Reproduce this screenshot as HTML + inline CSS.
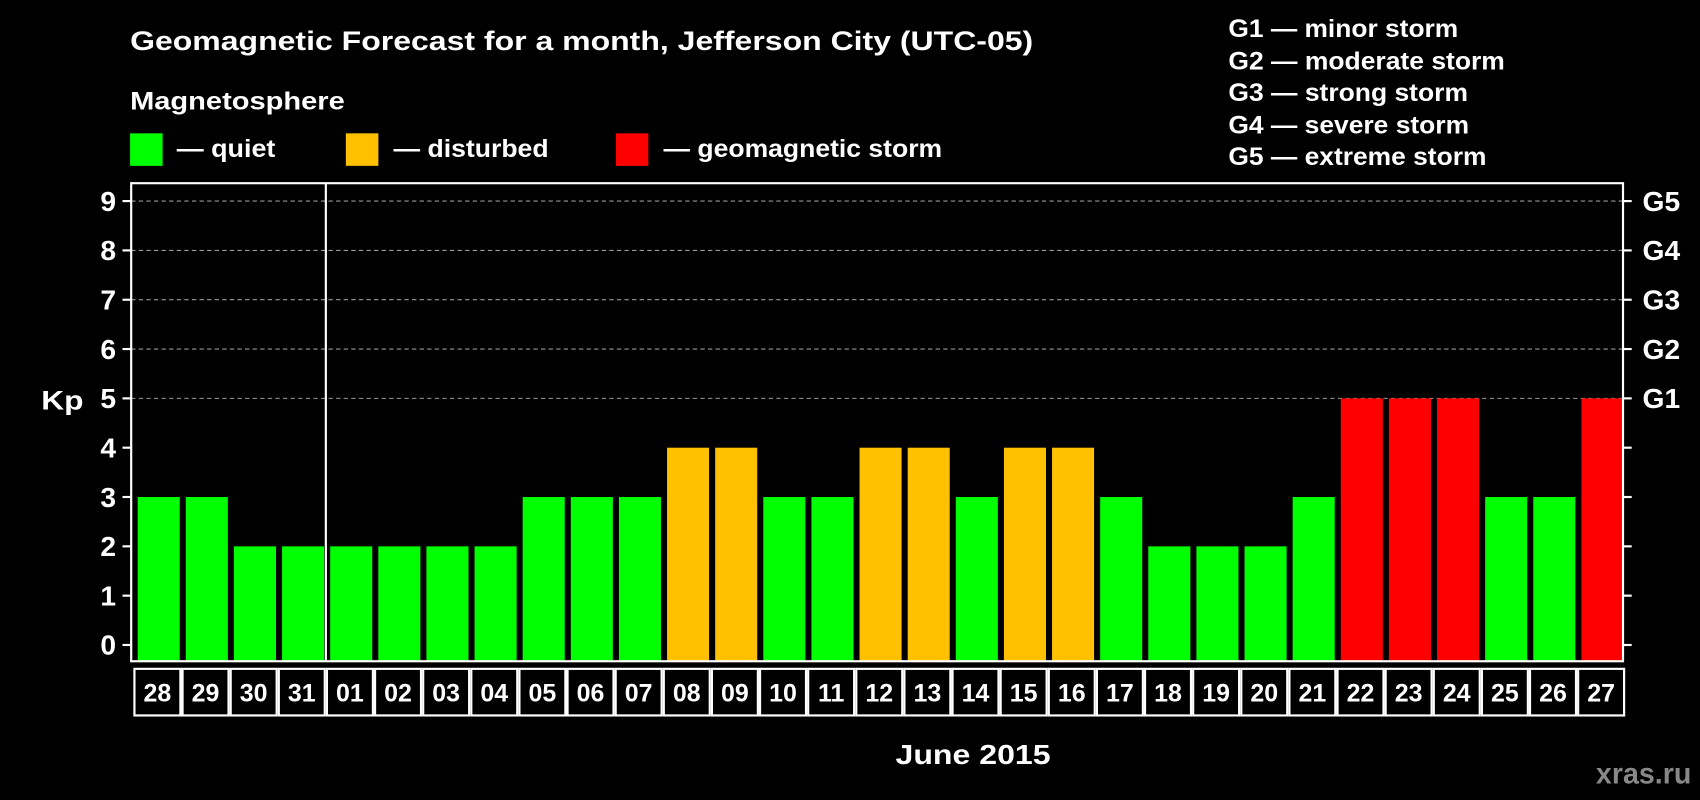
<!DOCTYPE html>
<html><head><meta charset="utf-8"><style>
html,body{margin:0;padding:0;background:#000;}
svg{display:block;font-family:"Liberation Sans",Arial,sans-serif;font-weight:bold;}
</style></head><body>
<svg id="chart" width="1700" height="800" viewBox="0 0 1568 738" preserveAspectRatio="none" xmlns="http://www.w3.org/2000/svg">
<rect x="0" y="0" width="1568" height="738" fill="#000"/>
<text x="120" y="46" fill="#fff" font-size="25" textLength="833" lengthAdjust="spacingAndGlyphs">Geomagnetic Forecast for a month, Jefferson City (UTC-05)</text>
<text x="120" y="101" fill="#fff" font-size="23" textLength="198" lengthAdjust="spacingAndGlyphs">Magnetosphere</text>
<g><rect x="120" y="123" width="30" height="30" fill="#00ff00"/><text x="163" y="145" fill="#fff" font-size="23" textLength="91" lengthAdjust="spacingAndGlyphs">— quiet</text></g>
<g><rect x="319" y="123" width="30" height="30" fill="#ffc000"/><text x="363" y="145" fill="#fff" font-size="23" textLength="143" lengthAdjust="spacingAndGlyphs">— disturbed</text></g>
<g><rect x="568" y="123" width="30" height="30" fill="#ff0000"/><text x="612" y="145" fill="#fff" font-size="23" textLength="257" lengthAdjust="spacingAndGlyphs">— geomagnetic storm</text></g>
<g fill="#fff" font-size="23">
<text x="1133" y="34" textLength="212" lengthAdjust="spacingAndGlyphs">G1 — minor storm</text>
<text x="1133" y="64" textLength="255" lengthAdjust="spacingAndGlyphs">G2 — moderate storm</text>
<text x="1133" y="93" textLength="221" lengthAdjust="spacingAndGlyphs">G3 — strong storm</text>
<text x="1133" y="123" textLength="222" lengthAdjust="spacingAndGlyphs">G4 — severe storm</text>
<text x="1133" y="152" textLength="238" lengthAdjust="spacingAndGlyphs">G5 — extreme storm</text>
</g>
<text x="38" y="378" fill="#fff" font-size="25" textLength="39" lengthAdjust="spacingAndGlyphs">Kp</text>
<text x="826" y="705" fill="#fff" font-size="26" textLength="143" lengthAdjust="spacingAndGlyphs">June 2015</text>
<text x="1472" y="723" fill="#888" font-size="27" textLength="88" lengthAdjust="spacingAndGlyphs">xras.ru</text>
<g id="grid"></g><g id="bars"></g><g id="axes"></g>
</svg>
<script>
const days = ["28","29","30","31","01","02","03","04","05","06","07","08","09","10","11","12","13","14","15","16","17","18","19","20","21","22","23","24","25","26","27"];
const kpValues = [3,3,2,2,2,2,2,2,3,3,3,4,4,3,3,4,4,3,4,4,3,2,2,2,3,5,5,5,3,3,5];
const yTicks = [0,1,2,3,4,5,6,7,8,9];
const gLabels = ["G1","G2","G3","G4","G5"];
const gLevels = [5,6,7,8,9];
const monthStartIndex = 4;

const NS="http://www.w3.org/2000/svg";
const L=121,R=1497,T=169,B=610;
const pitch=(R-L)/days.length;
function y(v){return 595-v*45.5;}
function x(i){return L+i*pitch;}
function mk(tag,attrs,parent){const e=document.createElementNS(NS,tag);for(const k in attrs)e.setAttribute(k,attrs[k]);parent.appendChild(e);return e;}
function color(v){return v>=5?"#ff0000":(v>=4?"#ffc000":"#00ff00");}
const grid=document.getElementById('grid'),bars=document.getElementById('bars'),axes=document.getElementById('axes');
yTicks.forEach(v=>{
  if(v>=5){const g=mk('line',{x1:L,x2:R,y1:y(v),y2:y(v),stroke:'#999','stroke-dasharray':'4,3','stroke-width':1},grid);
  
  }
  const t=mk('line',{x1:L-8,x2:L,y1:y(v),y2:y(v),stroke:'#fff','stroke-width':2},axes);
  
  
  const t2=mk('line',{x1:R,x2:R+8,y1:y(v),y2:y(v),stroke:'#fff','stroke-width':2},axes);
  
  
  const lb=mk('text',{x:L-14,y:y(v)+9,fill:'#fff','font-size':26,'text-anchor':'end'},axes);
  lb.textContent=v;
  
  
});
gLabels.forEach((g,i)=>{
  const lb=mk('text',{x:R+18,y:y(gLevels[i])+9,fill:'#fff','font-size':26},axes);
  lb.textContent=g;
  
  
});
kpValues.forEach((v,i)=>{
  const r=mk('rect',{x:x(i)+6,y:y(v),width:pitch-5.6,height:B-y(v),fill:color(v)},bars);
  
  
  const c=mk('rect',{x:x(i)+3,y:B+7,width:pitch-2,height:43,fill:'none',stroke:'#fff','stroke-width':2},axes);
  
  
  const t=mk('text',{x:x(i)+pitch/2+2,y:B+37,fill:'#fff','font-size':23,'text-anchor':'middle'},axes);
  t.textContent=days[i];
  
  
});
const fr=mk('rect',{x:L,y:T,width:R-L,height:B-T,fill:'none',stroke:'#fff','stroke-width':2},axes);


const ms=mk('line',{x1:x(monthStartIndex)+2,x2:x(monthStartIndex)+2,y1:T,y2:B,stroke:'#fff','stroke-width':2},axes);


</script>
</body></html>
